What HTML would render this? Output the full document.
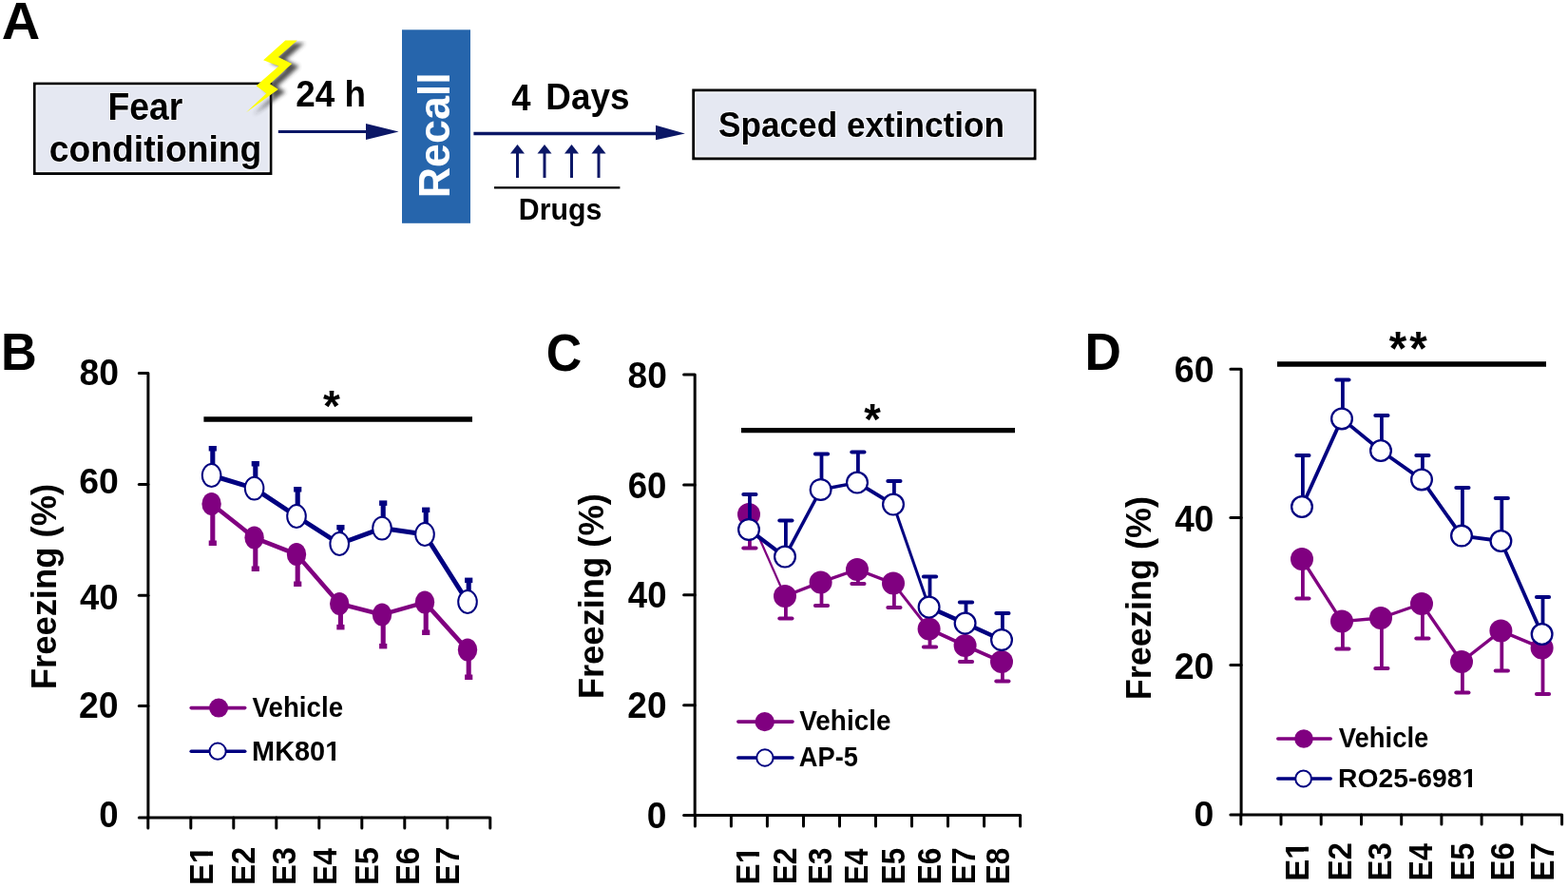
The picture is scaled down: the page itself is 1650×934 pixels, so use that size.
<!DOCTYPE html>
<html><head><meta charset="utf-8"><title>Figure</title>
<style>
html,body{margin:0;padding:0;background:#fff;}
body{width:1650px;height:934px;overflow:hidden;}
svg{display:block;}
text{font-family:"Liberation Sans", Arial, sans-serif;font-weight:bold;}
</style></head><body>
<svg width="1650" height="934" viewBox="0 0 1650 934">
<defs><filter id="blur" x="-20%" y="-20%" width="140%" height="140%"><feGaussianBlur stdDeviation="2.3"/></filter><clipPath id="boltclip"><rect x="250" y="42.5" width="100" height="100"/></clipPath><clipPath id="c1_1" clipPathUnits="userSpaceOnUse"><path clip-rule="evenodd" d="M-5000,-5000H5000V5000H-5000ZM24.80,-4.52H32.06V2.09H24.80ZM36.95,-4.52H44.27V2.09H36.95Z"/></clipPath><clipPath id="c1_2" clipPathUnits="userSpaceOnUse"><path clip-rule="evenodd" d="M-5000,-5000H5000V5000H-5000ZM77.63,-3.65H83.51V1.69H77.63ZM87.46,-3.65H93.37V1.69H87.46Z"/></clipPath><clipPath id="c1_3" clipPathUnits="userSpaceOnUse"><path clip-rule="evenodd" d="M-5000,-5000H5000V5000H-5000ZM24.80,-4.52H32.06V2.09H24.80ZM36.95,-4.52H44.27V2.09H36.95Z"/></clipPath><clipPath id="c1_4" clipPathUnits="userSpaceOnUse"><path clip-rule="evenodd" d="M-5000,-5000H5000V5000H-5000ZM24.80,-4.52H32.06V2.09H24.80ZM36.95,-4.52H44.27V2.09H36.95Z"/></clipPath><clipPath id="c1_5" clipPathUnits="userSpaceOnUse"><path clip-rule="evenodd" d="M-5000,-5000H5000V5000H-5000ZM130.33,-3.56H136.06V1.64H130.33ZM139.91,-3.56H145.68V1.64H139.91Z"/></clipPath></defs>
<rect width="1650" height="934" fill="#fff"/>
<text transform="translate(1.70,41.10) scale(1.0255,1)" font-size="54.65" fill="#000">A</text>
<rect x="36.3" y="88.0" width="248.7" height="94.6" fill="#e5e8f2" stroke="#000" stroke-width="2.8"/>
<rect x="38.3" y="90.0" width="244.7" height="90.4" fill="none" stroke="#fff" stroke-width="1"/>
<text transform="translate(113.40,125.70) scale(0.9108,1)" font-size="40.99" fill="#000" stroke="#f6f7fc" stroke-width="2.2" paint-order="stroke" stroke-linejoin="round">Fear</text>
<text transform="translate(51.74,169.70) scale(0.9824,1)" font-size="37.95" fill="#000" stroke="#f6f7fc" stroke-width="2.2" paint-order="stroke" stroke-linejoin="round">conditioning</text>
<g clip-path="url(#boltclip)"><polygon points="300.3,42.5 312.8,42.5 292.8,60.1 307.2,67.0 284.0,88.3 292.8,93.9 259.0,118.3 280.3,98.3 269.6,90.2 293.4,69.5 277.1,63.2" fill="#303030" transform="translate(7.5,2.8)" filter="url(#blur)" opacity="0.85"/></g>
<polygon points="300.3,42.5 312.8,42.5 292.8,60.1 307.2,67.0 284.0,88.3 292.8,93.9 259.0,118.3 280.3,98.3 269.6,90.2 293.4,69.5 277.1,63.2" fill="#ffff00"/>
<text transform="translate(311.22,111.50) scale(0.9647,1)" font-size="38.21" fill="#000">24 h</text>
<line x1="292.8" y1="138.5" x2="388" y2="138.5" stroke="#0b1766" stroke-width="3"/>
<polygon points="385,130 419.5,138.5 385,147" fill="#0b1766"/>
<rect x="423" y="31.3" width="72" height="203.5" fill="#2665ac"/>
<text transform="translate(473.40,208.19) rotate(-90) scale(0.9760,1)" font-size="45.86" fill="#fff">Recall</text>
<line x1="498.4" y1="140.4" x2="692" y2="140.4" stroke="#0b1766" stroke-width="3.5"/>
<polygon points="690,131.7 720.8,140.4 690,147.2" fill="#0b1766"/>
<text transform="translate(538.25,115.70) scale(0.9311,1)" font-size="39.10" fill="#000">4</text>
<text transform="translate(574.23,114.50) scale(0.9410,1)" font-size="39.24" fill="#000">Days</text>
<line x1="544.5" y1="160" x2="544.5" y2="187" stroke="#0b1766" stroke-width="3"/>
<polygon points="537.0,161.5 544.5,152.1 552.0,161.5" fill="#0b1766"/>
<line x1="573" y1="160" x2="573" y2="187" stroke="#0b1766" stroke-width="3"/>
<polygon points="565.5,161.5 573,152.1 580.5,161.5" fill="#0b1766"/>
<line x1="601.5" y1="160" x2="601.5" y2="187" stroke="#0b1766" stroke-width="3"/>
<polygon points="594.0,161.5 601.5,152.1 609.0,161.5" fill="#0b1766"/>
<line x1="630" y1="160" x2="630" y2="187" stroke="#0b1766" stroke-width="3"/>
<polygon points="622.5,161.5 630,152.1 637.5,161.5" fill="#0b1766"/>
<line x1="520" y1="197.4" x2="652.4" y2="197.4" stroke="#000" stroke-width="2.2"/>
<text transform="translate(545.77,231.00) scale(0.9733,1)" font-size="31.11" fill="#000">Drugs</text>
<rect x="729.8" y="95" width="359.2" height="71.8" fill="#e5e8f2" stroke="#000" stroke-width="3"/>
<rect x="731.8" y="97" width="355.2" height="67.8" fill="none" stroke="#fff" stroke-width="1"/>
<text transform="translate(756.09,143.50) scale(0.9375,1)" font-size="37.51" fill="#000" stroke="#f6f7fc" stroke-width="2.2" paint-order="stroke" stroke-linejoin="round">Spaced extinction</text>
<path d="M146.3,392.6 H155.9 V860" fill="none" stroke="#000" stroke-width="3" stroke-linejoin="round" stroke-linecap="round"/>
<line x1="146.3" y1="509.4" x2="155.9" y2="509.4" stroke="#000" stroke-width="3" stroke-linecap="round"/>
<line x1="146.3" y1="626.2" x2="155.9" y2="626.2" stroke="#000" stroke-width="3" stroke-linecap="round"/>
<line x1="146.3" y1="742.6" x2="155.9" y2="742.6" stroke="#000" stroke-width="3" stroke-linecap="round"/>
<line x1="146.3" y1="860" x2="514.5" y2="860" stroke="#000" stroke-width="3" stroke-linecap="round"/>
<line x1="155.8" y1="860" x2="155.8" y2="871.1" stroke="#000" stroke-width="3" stroke-linecap="round"/>
<line x1="200.8" y1="860" x2="200.8" y2="871.1" stroke="#000" stroke-width="3" stroke-linecap="round"/>
<line x1="245.8" y1="860" x2="245.8" y2="871.1" stroke="#000" stroke-width="3" stroke-linecap="round"/>
<line x1="290.8" y1="860" x2="290.8" y2="871.1" stroke="#000" stroke-width="3" stroke-linecap="round"/>
<line x1="335.8" y1="860" x2="335.8" y2="871.1" stroke="#000" stroke-width="3" stroke-linecap="round"/>
<line x1="380.8" y1="860" x2="380.8" y2="871.1" stroke="#000" stroke-width="3" stroke-linecap="round"/>
<line x1="425.8" y1="860" x2="425.8" y2="871.1" stroke="#000" stroke-width="3" stroke-linecap="round"/>
<line x1="470.8" y1="860" x2="470.8" y2="871.1" stroke="#000" stroke-width="3" stroke-linecap="round"/>
<line x1="515.8" y1="860" x2="515.8" y2="871.1" stroke="#000" stroke-width="3" stroke-linecap="round"/>
<text transform="translate(83.42,404.90) scale(0.9546,1)" font-size="39.10" fill="#000">80</text>
<text transform="translate(83.23,519.00) scale(0.9893,1)" font-size="37.81" fill="#000">60</text>
<text transform="translate(83.95,640.50) scale(0.9982,1)" font-size="36.52" fill="#000">40</text>
<text transform="translate(83.00,754.80) scale(0.9825,1)" font-size="38.10" fill="#000">20</text>
<text transform="translate(104.15,869.70) scale(0.9568,1)" font-size="38.24" fill="#000">0</text>
<text transform="translate(223.75,931.09) rotate(-90) scale(0.9633,1)" font-size="35.61" fill="#000" clip-path="url(#c1_1)">E1</text>
<text transform="translate(268.05,931.00) rotate(-90) scale(0.9370,1)" font-size="35.09" fill="#000">E2</text>
<text transform="translate(311.05,930.99) rotate(-90) scale(0.9338,1)" font-size="35.09" fill="#000">E3</text>
<text transform="translate(354.05,930.93) rotate(-90) scale(0.8955,1)" font-size="35.61" fill="#000">E4</text>
<text transform="translate(398.25,930.98) rotate(-90) scale(0.9133,1)" font-size="35.61" fill="#000">E5</text>
<text transform="translate(440.75,930.99) rotate(-90) scale(0.9338,1)" font-size="35.09" fill="#000">E6</text>
<text transform="translate(482.55,931.01) rotate(-90) scale(0.9265,1)" font-size="35.61" fill="#000">E7</text>
<text transform="translate(58.50,725.24) rotate(-90) scale(0.9708,1)" font-size="37.51" fill="#000">Freezing (%)</text>
<line x1="214.4" y1="441" x2="497" y2="441" stroke="#000" stroke-width="5.4"/>
<text transform="translate(339.97,442.97) scale(0.9824,1)" font-size="46.77" fill="#000">*</text>
<text transform="translate(0.90,388.90) scale(0.9571,1)" font-size="54.65" fill="#000">B</text>
<line x1="223.8" y1="530.0" x2="223.8" y2="572.0" stroke="#800080" stroke-width="5.1"/>
<rect x="219.7" y="568.5" width="8.2" height="5.5" fill="#800080"/>
<line x1="268.8" y1="565.6" x2="268.8" y2="599.0" stroke="#800080" stroke-width="5.1"/>
<rect x="264.7" y="595.5" width="8.2" height="5.5" fill="#800080"/>
<line x1="313.2" y1="583.0" x2="313.2" y2="615.0" stroke="#800080" stroke-width="5.1"/>
<rect x="309.1" y="611.5" width="8.2" height="5.5" fill="#800080"/>
<line x1="358.4" y1="635.0" x2="358.4" y2="660.4" stroke="#800080" stroke-width="5.1"/>
<rect x="354.3" y="656.9" width="8.2" height="5.5" fill="#800080"/>
<line x1="403.2" y1="646.4" x2="403.2" y2="680.4" stroke="#800080" stroke-width="5.1"/>
<rect x="399.1" y="676.9" width="8.2" height="5.5" fill="#800080"/>
<line x1="448.2" y1="633.6" x2="448.2" y2="666.0" stroke="#800080" stroke-width="5.1"/>
<rect x="444.1" y="662.5" width="8.2" height="5.5" fill="#800080"/>
<line x1="493.2" y1="683.6" x2="493.2" y2="713.0" stroke="#800080" stroke-width="5.1"/>
<rect x="489.1" y="709.5" width="8.2" height="5.5" fill="#800080"/>
<polyline points="222.6,530.0 267.6,565.6 312.0,583.0 357.2,635.0 402.0,646.4 447.0,633.6 492.0,683.6" fill="none" stroke="#800080" stroke-width="4.6" stroke-linejoin="round"/>
<ellipse cx="222.6" cy="530.0" rx="10.2" ry="12.0" fill="#800080"/>
<ellipse cx="267.6" cy="565.6" rx="10.2" ry="12.0" fill="#800080"/>
<ellipse cx="312.0" cy="583.0" rx="10.2" ry="12.0" fill="#800080"/>
<ellipse cx="357.2" cy="635.0" rx="10.2" ry="12.0" fill="#800080"/>
<ellipse cx="402.0" cy="646.4" rx="10.2" ry="12.0" fill="#800080"/>
<ellipse cx="447.0" cy="633.6" rx="10.2" ry="12.0" fill="#800080"/>
<ellipse cx="492.0" cy="683.6" rx="10.2" ry="12.0" fill="#800080"/>
<line x1="223.8" y1="500.0" x2="223.8" y2="471.0" stroke="#000080" stroke-width="5.1"/>
<rect x="219.7" y="469.0" width="8.2" height="5.5" fill="#000080"/>
<line x1="268.8" y1="513.6" x2="268.8" y2="487.0" stroke="#000080" stroke-width="5.1"/>
<rect x="264.7" y="485.0" width="8.2" height="5.5" fill="#000080"/>
<line x1="313.2" y1="543.0" x2="313.2" y2="514.0" stroke="#000080" stroke-width="5.1"/>
<rect x="309.1" y="512.0" width="8.2" height="5.5" fill="#000080"/>
<line x1="358.4" y1="572.0" x2="358.4" y2="554.0" stroke="#000080" stroke-width="5.1"/>
<rect x="354.3" y="552.0" width="8.2" height="5.5" fill="#000080"/>
<line x1="403.2" y1="555.6" x2="403.2" y2="528.4" stroke="#000080" stroke-width="5.1"/>
<rect x="399.1" y="526.4" width="8.2" height="5.5" fill="#000080"/>
<line x1="448.2" y1="562.0" x2="448.2" y2="535.6" stroke="#000080" stroke-width="5.1"/>
<rect x="444.1" y="533.6" width="8.2" height="5.5" fill="#000080"/>
<line x1="493.2" y1="633.0" x2="493.2" y2="609.6" stroke="#000080" stroke-width="5.1"/>
<rect x="489.1" y="607.6" width="8.2" height="5.5" fill="#000080"/>
<polyline points="222.6,500.0 267.6,513.6 312.0,543.0 357.2,572.0 402.0,555.6 447.0,562.0 492.0,633.0" fill="none" stroke="#000080" stroke-width="5.0" stroke-linejoin="round"/>
<ellipse cx="222.6" cy="500.0" rx="9.80" ry="11.90" fill="#fff" stroke="#000080" stroke-width="2.0"/>
<ellipse cx="267.6" cy="513.6" rx="9.80" ry="11.90" fill="#fff" stroke="#000080" stroke-width="2.0"/>
<ellipse cx="312.0" cy="543.0" rx="9.80" ry="11.90" fill="#fff" stroke="#000080" stroke-width="2.0"/>
<ellipse cx="357.2" cy="572.0" rx="9.80" ry="11.90" fill="#fff" stroke="#000080" stroke-width="2.0"/>
<ellipse cx="402.0" cy="555.6" rx="9.80" ry="11.90" fill="#fff" stroke="#000080" stroke-width="2.0"/>
<ellipse cx="447.0" cy="562.0" rx="9.80" ry="11.90" fill="#fff" stroke="#000080" stroke-width="2.0"/>
<ellipse cx="492.0" cy="633.0" rx="9.80" ry="11.90" fill="#fff" stroke="#000080" stroke-width="2.0"/>
<line x1="201.20000000000002" y1="744.6" x2="257.7" y2="744.6" stroke="#800080" stroke-width="3.6" stroke-linecap="round"/>
<circle cx="230.1" cy="744.6" r="10" fill="#800080"/>
<text transform="translate(265.61,754.10) scale(0.9367,1)" font-size="29.58" fill="#000">Vehicle</text>
<line x1="201.20000000000002" y1="790.2" x2="257.7" y2="790.2" stroke="#000080" stroke-width="3.6" stroke-linecap="round"/>
<circle cx="229.1" cy="790.2" r="8.6" fill="#fff" stroke="#000080" stroke-width="2"/>
<text transform="translate(265.07,799.60) scale(1.0043,1)" font-size="28.79" fill="#000" clip-path="url(#c1_2)">MK801</text>
<path d="M719.5999999999999,394.1 H731.2 V857.5" fill="none" stroke="#000" stroke-width="3" stroke-linejoin="round" stroke-linecap="round"/>
<line x1="719.5999999999999" y1="510" x2="731.2" y2="510" stroke="#000" stroke-width="3" stroke-linecap="round"/>
<line x1="719.5999999999999" y1="625.8" x2="731.2" y2="625.8" stroke="#000" stroke-width="3" stroke-linecap="round"/>
<line x1="719.5999999999999" y1="741.8" x2="731.2" y2="741.8" stroke="#000" stroke-width="3" stroke-linecap="round"/>
<line x1="719.5999999999999" y1="857.5" x2="1072.3" y2="857.5" stroke="#000" stroke-width="3" stroke-linecap="round"/>
<line x1="731.4" y1="857.5" x2="731.4" y2="869.1" stroke="#000" stroke-width="3" stroke-linecap="round"/>
<line x1="769.4" y1="857.5" x2="769.4" y2="869.1" stroke="#000" stroke-width="3" stroke-linecap="round"/>
<line x1="807.4" y1="857.5" x2="807.4" y2="869.1" stroke="#000" stroke-width="3" stroke-linecap="round"/>
<line x1="845.5" y1="857.5" x2="845.5" y2="869.1" stroke="#000" stroke-width="3" stroke-linecap="round"/>
<line x1="883.5" y1="857.5" x2="883.5" y2="869.1" stroke="#000" stroke-width="3" stroke-linecap="round"/>
<line x1="921.5" y1="857.5" x2="921.5" y2="869.1" stroke="#000" stroke-width="3" stroke-linecap="round"/>
<line x1="959.5" y1="857.5" x2="959.5" y2="869.1" stroke="#000" stroke-width="3" stroke-linecap="round"/>
<line x1="997.5" y1="857.5" x2="997.5" y2="869.1" stroke="#000" stroke-width="3" stroke-linecap="round"/>
<line x1="1035.6" y1="857.5" x2="1035.6" y2="869.1" stroke="#000" stroke-width="3" stroke-linecap="round"/>
<line x1="1073.6" y1="857.5" x2="1073.6" y2="869.1" stroke="#000" stroke-width="3" stroke-linecap="round"/>
<text transform="translate(660.62,407.70) scale(0.9497,1)" font-size="39.10" fill="#000">80</text>
<text transform="translate(660.66,523.50) scale(0.9498,1)" font-size="38.67" fill="#000">60</text>
<text transform="translate(660.85,639.00) scale(0.9630,1)" font-size="37.95" fill="#000">40</text>
<text transform="translate(660.32,754.90) scale(0.9687,1)" font-size="38.24" fill="#000">20</text>
<text transform="translate(680.83,871.20) scale(0.9769,1)" font-size="38.10" fill="#000">0</text>
<text transform="translate(798.85,930.41) rotate(-90) scale(0.9286,1)" font-size="35.61" fill="#000" clip-path="url(#c1_3)">E1</text>
<text transform="translate(837.65,930.33) rotate(-90) scale(0.9064,1)" font-size="35.09" fill="#000">E2</text>
<text transform="translate(875.25,930.32) rotate(-90) scale(0.9032,1)" font-size="35.09" fill="#000">E3</text>
<text transform="translate(913.35,930.26) rotate(-90) scale(0.8662,1)" font-size="35.61" fill="#000">E4</text>
<text transform="translate(952.25,930.30) rotate(-90) scale(0.8834,1)" font-size="35.61" fill="#000">E5</text>
<text transform="translate(990.45,930.32) rotate(-90) scale(0.9032,1)" font-size="35.09" fill="#000">E6</text>
<text transform="translate(1025.85,930.33) rotate(-90) scale(0.8962,1)" font-size="35.61" fill="#000">E7</text>
<text transform="translate(1061.95,930.31) rotate(-90) scale(0.8989,1)" font-size="35.09" fill="#000">E8</text>
<text transform="translate(635.00,735.33) rotate(-90) scale(0.9694,1)" font-size="37.51" fill="#000">Freezing (%)</text>
<line x1="780" y1="452.6" x2="1068" y2="452.6" stroke="#000" stroke-width="5.4"/>
<text transform="translate(909.17,457.43) scale(0.9885,1)" font-size="45.69" fill="#000">*</text>
<text transform="translate(574.77,389.50) scale(0.9331,1)" font-size="55.57" fill="#000">C</text>
<line x1="788.9" y1="541.0" x2="788.9" y2="576.4" stroke="#800080" stroke-width="3.8"/>
<line x1="782.3" y1="576.4" x2="795.5" y2="576.4" stroke="#800080" stroke-width="4" stroke-linecap="round"/>
<line x1="826.9" y1="627.0" x2="826.9" y2="650.4" stroke="#800080" stroke-width="3.8"/>
<line x1="820.3" y1="650.4" x2="833.5" y2="650.4" stroke="#800080" stroke-width="4" stroke-linecap="round"/>
<line x1="864.5" y1="612.4" x2="864.5" y2="637.0" stroke="#800080" stroke-width="3.8"/>
<line x1="857.9" y1="637.0" x2="871.1" y2="637.0" stroke="#800080" stroke-width="4" stroke-linecap="round"/>
<line x1="902.9" y1="599.0" x2="902.9" y2="614.0" stroke="#800080" stroke-width="3.8"/>
<line x1="896.3" y1="614.0" x2="909.5" y2="614.0" stroke="#800080" stroke-width="4" stroke-linecap="round"/>
<line x1="940.9" y1="613.6" x2="940.9" y2="639.0" stroke="#800080" stroke-width="3.8"/>
<line x1="934.3" y1="639.0" x2="947.5" y2="639.0" stroke="#800080" stroke-width="4" stroke-linecap="round"/>
<line x1="978.5" y1="661.6" x2="978.5" y2="680.6" stroke="#800080" stroke-width="3.8"/>
<line x1="971.9" y1="680.6" x2="985.1" y2="680.6" stroke="#800080" stroke-width="4" stroke-linecap="round"/>
<line x1="1016.5" y1="679.0" x2="1016.5" y2="696.0" stroke="#800080" stroke-width="3.8"/>
<line x1="1009.9" y1="696.0" x2="1023.1" y2="696.0" stroke="#800080" stroke-width="4" stroke-linecap="round"/>
<line x1="1054.9" y1="696.0" x2="1054.9" y2="716.6" stroke="#800080" stroke-width="3.8"/>
<line x1="1048.3" y1="716.6" x2="1061.5" y2="716.6" stroke="#800080" stroke-width="4" stroke-linecap="round"/>
<line x1="788.0" y1="541.0" x2="826.0" y2="627.0" stroke="#800080" stroke-width="2.2"/>
<line x1="826.0" y1="627.0" x2="863.6" y2="612.4" stroke="#800080" stroke-width="3.4"/>
<line x1="863.6" y1="612.4" x2="902.0" y2="599.0" stroke="#800080" stroke-width="3.4"/>
<line x1="902.0" y1="599.0" x2="940.0" y2="613.6" stroke="#800080" stroke-width="3.4"/>
<line x1="940.0" y1="613.6" x2="977.6" y2="661.6" stroke="#800080" stroke-width="3.0"/>
<line x1="977.6" y1="661.6" x2="1015.6" y2="679.0" stroke="#800080" stroke-width="3.8"/>
<line x1="1015.6" y1="679.0" x2="1054.0" y2="696.0" stroke="#800080" stroke-width="3.6"/>
<ellipse cx="788.0" cy="541.0" rx="12" ry="12" fill="#800080"/>
<ellipse cx="826.0" cy="627.0" rx="12" ry="12" fill="#800080"/>
<ellipse cx="863.6" cy="612.4" rx="12" ry="12" fill="#800080"/>
<ellipse cx="902.0" cy="599.0" rx="12" ry="12" fill="#800080"/>
<ellipse cx="940.0" cy="613.6" rx="12" ry="12" fill="#800080"/>
<ellipse cx="977.6" cy="661.6" rx="12" ry="12" fill="#800080"/>
<ellipse cx="1015.6" cy="679.0" rx="12" ry="12" fill="#800080"/>
<ellipse cx="1054.0" cy="696.0" rx="12" ry="12" fill="#800080"/>
<line x1="788.9" y1="557.0" x2="788.9" y2="520.0" stroke="#000080" stroke-width="3.8"/>
<line x1="782.3" y1="520.0" x2="795.5" y2="520.0" stroke="#000080" stroke-width="4" stroke-linecap="round"/>
<line x1="826.9" y1="585.6" x2="826.9" y2="547.4" stroke="#000080" stroke-width="3.8"/>
<line x1="820.3" y1="547.4" x2="833.5" y2="547.4" stroke="#000080" stroke-width="4" stroke-linecap="round"/>
<line x1="864.5" y1="515.0" x2="864.5" y2="477.6" stroke="#000080" stroke-width="3.8"/>
<line x1="857.9" y1="477.6" x2="871.1" y2="477.6" stroke="#000080" stroke-width="4" stroke-linecap="round"/>
<line x1="902.9" y1="507.6" x2="902.9" y2="475.6" stroke="#000080" stroke-width="3.8"/>
<line x1="896.3" y1="475.6" x2="909.5" y2="475.6" stroke="#000080" stroke-width="4" stroke-linecap="round"/>
<line x1="940.9" y1="530.6" x2="940.9" y2="506.0" stroke="#000080" stroke-width="3.8"/>
<line x1="934.3" y1="506.0" x2="947.5" y2="506.0" stroke="#000080" stroke-width="4" stroke-linecap="round"/>
<line x1="978.5" y1="638.6" x2="978.5" y2="606.6" stroke="#000080" stroke-width="3.8"/>
<line x1="971.9" y1="606.6" x2="985.1" y2="606.6" stroke="#000080" stroke-width="4" stroke-linecap="round"/>
<line x1="1016.5" y1="655.6" x2="1016.5" y2="633.6" stroke="#000080" stroke-width="3.8"/>
<line x1="1009.9" y1="633.6" x2="1023.1" y2="633.6" stroke="#000080" stroke-width="4" stroke-linecap="round"/>
<line x1="1054.9" y1="673.0" x2="1054.9" y2="645.0" stroke="#000080" stroke-width="3.8"/>
<line x1="1048.3" y1="645.0" x2="1061.5" y2="645.0" stroke="#000080" stroke-width="4" stroke-linecap="round"/>
<line x1="788.0" y1="557.0" x2="826.0" y2="585.6" stroke="#000080" stroke-width="4.3"/>
<line x1="826.0" y1="585.6" x2="863.6" y2="515.0" stroke="#000080" stroke-width="3.5"/>
<line x1="863.6" y1="515.0" x2="902.0" y2="507.6" stroke="#000080" stroke-width="3.5"/>
<line x1="902.0" y1="507.6" x2="940.0" y2="530.6" stroke="#000080" stroke-width="4.0"/>
<line x1="940.0" y1="530.6" x2="977.6" y2="638.6" stroke="#000080" stroke-width="3.0"/>
<line x1="977.6" y1="638.6" x2="1015.6" y2="655.6" stroke="#000080" stroke-width="4.5"/>
<line x1="1015.6" y1="655.6" x2="1054.0" y2="673.0" stroke="#000080" stroke-width="4.5"/>
<ellipse cx="788.0" cy="557.0" rx="10.90" ry="10.90" fill="#fff" stroke="#000080" stroke-width="2.2"/>
<ellipse cx="826.0" cy="585.6" rx="10.90" ry="10.90" fill="#fff" stroke="#000080" stroke-width="2.2"/>
<ellipse cx="863.6" cy="515.0" rx="10.90" ry="10.90" fill="#fff" stroke="#000080" stroke-width="2.2"/>
<ellipse cx="902.0" cy="507.6" rx="10.90" ry="10.90" fill="#fff" stroke="#000080" stroke-width="2.2"/>
<ellipse cx="940.0" cy="530.6" rx="10.90" ry="10.90" fill="#fff" stroke="#000080" stroke-width="2.2"/>
<ellipse cx="977.6" cy="638.6" rx="10.90" ry="10.90" fill="#fff" stroke="#000080" stroke-width="2.2"/>
<ellipse cx="1015.6" cy="655.6" rx="10.90" ry="10.90" fill="#fff" stroke="#000080" stroke-width="2.2"/>
<ellipse cx="1054.0" cy="673.0" rx="10.90" ry="10.90" fill="#fff" stroke="#000080" stroke-width="2.2"/>
<line x1="776.8" y1="759.1" x2="834.0" y2="759.1" stroke="#800080" stroke-width="3.6" stroke-linecap="round"/>
<circle cx="804.7" cy="759.1" r="10.2" fill="#800080"/>
<text transform="translate(841.31,768.20) scale(0.9517,1)" font-size="29.30" fill="#000">Vehicle</text>
<line x1="776.8" y1="797" x2="834.0" y2="797" stroke="#000080" stroke-width="3.6" stroke-linecap="round"/>
<circle cx="804.9" cy="797" r="8.7" fill="#fff" stroke="#000080" stroke-width="2"/>
<text transform="translate(840.82,806.20) scale(0.9477,1)" font-size="28.78" fill="#000">AP-5</text>
<path d="M1294.8999999999999,388.2 H1306.1 V856.9" fill="none" stroke="#000" stroke-width="3" stroke-linejoin="round" stroke-linecap="round"/>
<line x1="1294.8999999999999" y1="544.5" x2="1306.1" y2="544.5" stroke="#000" stroke-width="3" stroke-linecap="round"/>
<line x1="1294.8999999999999" y1="699.5" x2="1306.1" y2="699.5" stroke="#000" stroke-width="3" stroke-linecap="round"/>
<line x1="1294.8999999999999" y1="856.9" x2="1642.3" y2="856.9" stroke="#000" stroke-width="3" stroke-linecap="round"/>
<line x1="1305.8" y1="856.9" x2="1305.8" y2="867.1" stroke="#000" stroke-width="3" stroke-linecap="round"/>
<line x1="1348.0" y1="856.9" x2="1348.0" y2="867.1" stroke="#000" stroke-width="3" stroke-linecap="round"/>
<line x1="1390.2" y1="856.9" x2="1390.2" y2="867.1" stroke="#000" stroke-width="3" stroke-linecap="round"/>
<line x1="1432.5" y1="856.9" x2="1432.5" y2="867.1" stroke="#000" stroke-width="3" stroke-linecap="round"/>
<line x1="1474.7" y1="856.9" x2="1474.7" y2="867.1" stroke="#000" stroke-width="3" stroke-linecap="round"/>
<line x1="1516.9" y1="856.9" x2="1516.9" y2="867.1" stroke="#000" stroke-width="3" stroke-linecap="round"/>
<line x1="1559.1" y1="856.9" x2="1559.1" y2="867.1" stroke="#000" stroke-width="3" stroke-linecap="round"/>
<line x1="1601.3" y1="856.9" x2="1601.3" y2="867.1" stroke="#000" stroke-width="3" stroke-linecap="round"/>
<line x1="1643.6" y1="856.9" x2="1643.6" y2="867.1" stroke="#000" stroke-width="3" stroke-linecap="round"/>
<text transform="translate(1235.72,401.70) scale(0.9869,1)" font-size="38.10" fill="#000">60</text>
<text transform="translate(1236.24,558.50) scale(0.9730,1)" font-size="37.95" fill="#000">40</text>
<text transform="translate(1235.70,713.50) scale(0.9913,1)" font-size="37.95" fill="#000">20</text>
<text transform="translate(1256.52,869.00) scale(1.0051,1)" font-size="37.24" fill="#000">0</text>
<text transform="translate(1376.55,926.72) rotate(-90) scale(0.9720,1)" font-size="35.61" fill="#000" clip-path="url(#c1_4)">E1</text>
<text transform="translate(1421.65,926.62) rotate(-90) scale(0.9447,1)" font-size="35.09" fill="#000">E2</text>
<text transform="translate(1463.65,926.61) rotate(-90) scale(0.9414,1)" font-size="35.09" fill="#000">E3</text>
<text transform="translate(1506.95,926.55) rotate(-90) scale(0.9028,1)" font-size="35.61" fill="#000">E4</text>
<text transform="translate(1551.45,926.59) rotate(-90) scale(0.9208,1)" font-size="35.61" fill="#000">E5</text>
<text transform="translate(1593.45,926.61) rotate(-90) scale(0.9414,1)" font-size="35.09" fill="#000">E6</text>
<text transform="translate(1635.45,926.63) rotate(-90) scale(0.9341,1)" font-size="35.61" fill="#000">E7</text>
<text transform="translate(1211.20,736.21) rotate(-90) scale(0.9834,1)" font-size="36.66" fill="#000">Freezing (%)</text>
<line x1="1344" y1="383" x2="1627" y2="383" stroke="#000" stroke-width="5.4"/>
<text transform="translate(1461.76,383.74) scale(0.9658,1)" font-size="49.18" fill="#000">*</text>
<text transform="translate(1483.26,383.74) scale(0.9658,1)" font-size="49.18" fill="#000">*</text>
<text transform="translate(1141.44,388.90) scale(0.9726,1)" font-size="54.65" fill="#000">D</text>
<line x1="1370.9" y1="588.0" x2="1370.9" y2="629.6" stroke="#800080" stroke-width="3.8"/>
<line x1="1364.3" y1="629.6" x2="1377.5" y2="629.6" stroke="#800080" stroke-width="4" stroke-linecap="round"/>
<line x1="1412.9" y1="653.6" x2="1412.9" y2="682.6" stroke="#800080" stroke-width="3.8"/>
<line x1="1406.3" y1="682.6" x2="1419.5" y2="682.6" stroke="#800080" stroke-width="4" stroke-linecap="round"/>
<line x1="1453.9" y1="650.0" x2="1453.9" y2="703.0" stroke="#800080" stroke-width="3.8"/>
<line x1="1447.3" y1="703.0" x2="1460.5" y2="703.0" stroke="#800080" stroke-width="4" stroke-linecap="round"/>
<line x1="1496.9" y1="635.0" x2="1496.9" y2="671.6" stroke="#800080" stroke-width="3.8"/>
<line x1="1490.3" y1="671.6" x2="1503.5" y2="671.6" stroke="#800080" stroke-width="4" stroke-linecap="round"/>
<line x1="1538.9" y1="696.0" x2="1538.9" y2="728.4" stroke="#800080" stroke-width="3.8"/>
<line x1="1532.3" y1="728.4" x2="1545.5" y2="728.4" stroke="#800080" stroke-width="4" stroke-linecap="round"/>
<line x1="1580.3" y1="663.6" x2="1580.3" y2="705.6" stroke="#800080" stroke-width="3.8"/>
<line x1="1573.7" y1="705.6" x2="1586.9" y2="705.6" stroke="#800080" stroke-width="4" stroke-linecap="round"/>
<line x1="1623.5" y1="681.6" x2="1623.5" y2="730.0" stroke="#800080" stroke-width="3.8"/>
<line x1="1616.9" y1="730.0" x2="1630.1" y2="730.0" stroke="#800080" stroke-width="4" stroke-linecap="round"/>
<polyline points="1370.0,588.0 1412.0,653.6 1453.0,650.0 1496.0,635.0 1538.0,696.0 1579.4,663.6 1622.6,681.6" fill="none" stroke="#800080" stroke-width="3.4" stroke-linejoin="round"/>
<ellipse cx="1370.0" cy="588.0" rx="12" ry="12" fill="#800080"/>
<ellipse cx="1412.0" cy="653.6" rx="12" ry="12" fill="#800080"/>
<ellipse cx="1453.0" cy="650.0" rx="12" ry="12" fill="#800080"/>
<ellipse cx="1496.0" cy="635.0" rx="12" ry="12" fill="#800080"/>
<ellipse cx="1538.0" cy="696.0" rx="12" ry="12" fill="#800080"/>
<ellipse cx="1579.4" cy="663.6" rx="12" ry="12" fill="#800080"/>
<ellipse cx="1622.6" cy="681.6" rx="12" ry="12" fill="#800080"/>
<line x1="1370.9" y1="533.0" x2="1370.9" y2="479.0" stroke="#000080" stroke-width="3.8"/>
<line x1="1364.3" y1="479.0" x2="1377.5" y2="479.0" stroke="#000080" stroke-width="4" stroke-linecap="round"/>
<line x1="1412.9" y1="440.4" x2="1412.9" y2="399.6" stroke="#000080" stroke-width="3.8"/>
<line x1="1406.3" y1="399.6" x2="1419.5" y2="399.6" stroke="#000080" stroke-width="4" stroke-linecap="round"/>
<line x1="1453.9" y1="474.0" x2="1453.9" y2="437.0" stroke="#000080" stroke-width="3.8"/>
<line x1="1447.3" y1="437.0" x2="1460.5" y2="437.0" stroke="#000080" stroke-width="4" stroke-linecap="round"/>
<line x1="1496.9" y1="504.4" x2="1496.9" y2="479.0" stroke="#000080" stroke-width="3.8"/>
<line x1="1490.3" y1="479.0" x2="1503.5" y2="479.0" stroke="#000080" stroke-width="4" stroke-linecap="round"/>
<line x1="1538.9" y1="563.6" x2="1538.9" y2="513.0" stroke="#000080" stroke-width="3.8"/>
<line x1="1532.3" y1="513.0" x2="1545.5" y2="513.0" stroke="#000080" stroke-width="4" stroke-linecap="round"/>
<line x1="1580.3" y1="569.0" x2="1580.3" y2="524.0" stroke="#000080" stroke-width="3.8"/>
<line x1="1573.7" y1="524.0" x2="1586.9" y2="524.0" stroke="#000080" stroke-width="4" stroke-linecap="round"/>
<line x1="1623.5" y1="667.0" x2="1623.5" y2="628.0" stroke="#000080" stroke-width="3.8"/>
<line x1="1616.9" y1="628.0" x2="1630.1" y2="628.0" stroke="#000080" stroke-width="4" stroke-linecap="round"/>
<polyline points="1370.0,533.0 1412.0,440.4 1453.0,474.0 1496.0,504.4 1538.0,563.6 1579.4,569.0 1622.6,667.0" fill="none" stroke="#000080" stroke-width="3.8" stroke-linejoin="round"/>
<ellipse cx="1370.0" cy="533.0" rx="10.85" ry="10.85" fill="#fff" stroke="#000080" stroke-width="2.3"/>
<ellipse cx="1412.0" cy="440.4" rx="10.85" ry="10.85" fill="#fff" stroke="#000080" stroke-width="2.3"/>
<ellipse cx="1453.0" cy="474.0" rx="10.85" ry="10.85" fill="#fff" stroke="#000080" stroke-width="2.3"/>
<ellipse cx="1496.0" cy="504.4" rx="10.85" ry="10.85" fill="#fff" stroke="#000080" stroke-width="2.3"/>
<ellipse cx="1538.0" cy="563.6" rx="10.85" ry="10.85" fill="#fff" stroke="#000080" stroke-width="2.3"/>
<ellipse cx="1579.4" cy="569.0" rx="10.85" ry="10.85" fill="#fff" stroke="#000080" stroke-width="2.3"/>
<ellipse cx="1622.6" cy="667.0" rx="10.85" ry="10.85" fill="#fff" stroke="#000080" stroke-width="2.3"/>
<line x1="1344.8" y1="777" x2="1400.2" y2="777" stroke="#800080" stroke-width="3.6" stroke-linecap="round"/>
<circle cx="1372" cy="777" r="9.8" fill="#800080"/>
<text transform="translate(1408.81,786.40) scale(0.9507,1)" font-size="28.87" fill="#000">Vehicle</text>
<line x1="1344.8" y1="819" x2="1400.2" y2="819" stroke="#000080" stroke-width="3.6" stroke-linecap="round"/>
<circle cx="1371.6" cy="819" r="8.4" fill="#fff" stroke="#000080" stroke-width="2"/>
<text transform="translate(1408.11,827.60) scale(1.0070,1)" font-size="28.07" fill="#000" clip-path="url(#c1_5)">RO25-6981</text>
</svg>
</body></html>
